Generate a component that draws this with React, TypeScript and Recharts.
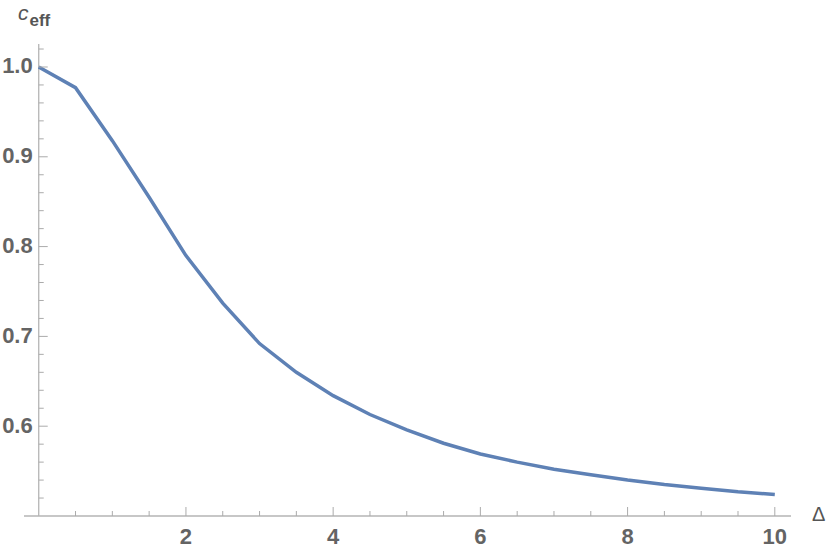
import React from "react";
import { LineChart, Line, XAxis, YAxis, ReferenceLine } from "recharts";

const deltaValues = [0, 0.5, 1, 1.5, 2, 2.5, 3, 3.5, 4, 4.5, 5, 5.5, 6, 6.5, 7, 7.5, 8, 8.5, 9, 9.5, 10];
const ceffValues = [
  1.0, 0.977, 0.918, 0.855, 0.79, 0.737, 0.692, 0.66, 0.634, 0.613, 0.596,
  0.581, 0.569, 0.56, 0.552, 0.546, 0.54, 0.535, 0.531, 0.527, 0.524
];

const xTicks = [0.5, 1, 1.5, 2, 2.5, 3, 3.5, 4, 4.5, 5, 5.5, 6, 6.5, 7, 7.5, 8, 8.5, 9, 9.5, 10];
const xLabelTicks = [2, 4, 6, 8, 10];
const yTicks = [0.52, 0.54, 0.56, 0.58, 0.6, 0.62, 0.64, 0.66, 0.68, 0.7, 0.72, 0.74, 0.76, 0.78, 0.8,
  0.82, 0.84, 0.86, 0.88, 0.9, 0.92, 0.94, 0.96, 0.98, 1.0, 1.02];
const yLabelTicks = [0.6, 0.7, 0.8, 0.9, 1.0];

const data = deltaValues.map((d, i) => ({ delta: d, ceff: ceffValues[i] }));

const W = 828;
const H = 555;
const Y_AXIS_W = 24;
const M = { top: 44, right: 37, bottom: 0, left: 0 };
const X_DOMAIN: [number, number] = [-0.2, 10.22];
const Y_DOMAIN: [number, number] = [0.5, 1.0256];
const X_AXIS_H = 39;

const TICK_COLOR = "#ababab";
const AXIS_COLOR = "#b5b5b5";
const LABEL_COLOR = "#646464";
const FONT = "'Liberation Sans', Arial, sans-serif";

// x pixel of the vertical axis (data x = 0)
const plotLeft = M.left + Y_AXIS_W;
const plotW = W - plotLeft - M.right;
const AXIS_X = plotLeft + ((0 - X_DOMAIN[0]) / (X_DOMAIN[1] - X_DOMAIN[0])) * plotW;

const isMajor = (v: number, list: number[]) => list.some((t) => Math.abs(t - v) < 1e-6);

const XTick = (props: any) => {
  const { x, y, payload } = props;
  const major = isMajor(payload.value, xLabelTicks);
  return (
    <g>
      <line x1={x} x2={x} y1={y} y2={y - (major ? 9 : 5)} stroke={TICK_COLOR} strokeWidth={1} />
      {major && (
        <text x={x} y={y + 28} textAnchor="middle" fill={LABEL_COLOR} fontSize={22} fontWeight="bold" fontFamily={FONT}>
          {payload.value}
        </text>
      )}
    </g>
  );
};

const YTick = (props: any) => {
  const { y, payload } = props;
  const major = isMajor(payload.value, yLabelTicks);
  return (
    <g>
      <line x1={AXIS_X} x2={AXIS_X + (major ? 9 : 5)} y1={y} y2={y} stroke={TICK_COLOR} strokeWidth={1} />
      {major && (
        <text x={AXIS_X - 6} y={y + 6.5} textAnchor="end" fill={LABEL_COLOR} fontSize={22} fontWeight="bold" fontFamily={FONT}>
          {payload.value.toFixed(1)}
        </text>
      )}
    </g>
  );
};

export default function App() {
  return (
    <div style={{ position: "absolute", left: 0, top: 0, width: W, height: H, background: "#fff" }}>
      <LineChart width={W} height={H} data={data} margin={M}>
        <XAxis
          dataKey="delta"
          type="number"
          domain={X_DOMAIN}
          allowDataOverflow
          ticks={xTicks}
          interval={0}
          tickLine={false}
          tickSize={0}
          tickMargin={0}
          height={X_AXIS_H}
          axisLine={{ stroke: AXIS_COLOR, strokeWidth: 1.3 }}
          tick={<XTick />}
        />
        <YAxis
          type="number"
          domain={Y_DOMAIN}
          allowDataOverflow
          ticks={yTicks}
          interval={0}
          width={Y_AXIS_W}
          tickLine={false}
          tickSize={0}
          tickMargin={0}
          axisLine={false}
          tick={<YTick />}
        />
        <ReferenceLine x={0} stroke={AXIS_COLOR} strokeWidth={1.3} />
        <Line
          type="linear"
          dataKey="ceff"
          stroke="#5E81B5"
          strokeWidth={3.5}
          dot={false}
          isAnimationActive={false}
        />
      </LineChart>
      <svg width={W} height={H} style={{ position: "absolute", left: 0, top: 0, pointerEvents: "none" }}>
        <text x={18} y={20} fill="#555" fontFamily={FONT}>
          <tspan fontSize={21} fontStyle="italic">c</tspan>
          <tspan fontSize={17} fontWeight="bold" dy={6} dx={1}>eff</tspan>
        </text>
        <text x={812} y={521} fill="#555" fontFamily={FONT} fontSize={20}>Δ</text>
      </svg>
    </div>
  );
}
